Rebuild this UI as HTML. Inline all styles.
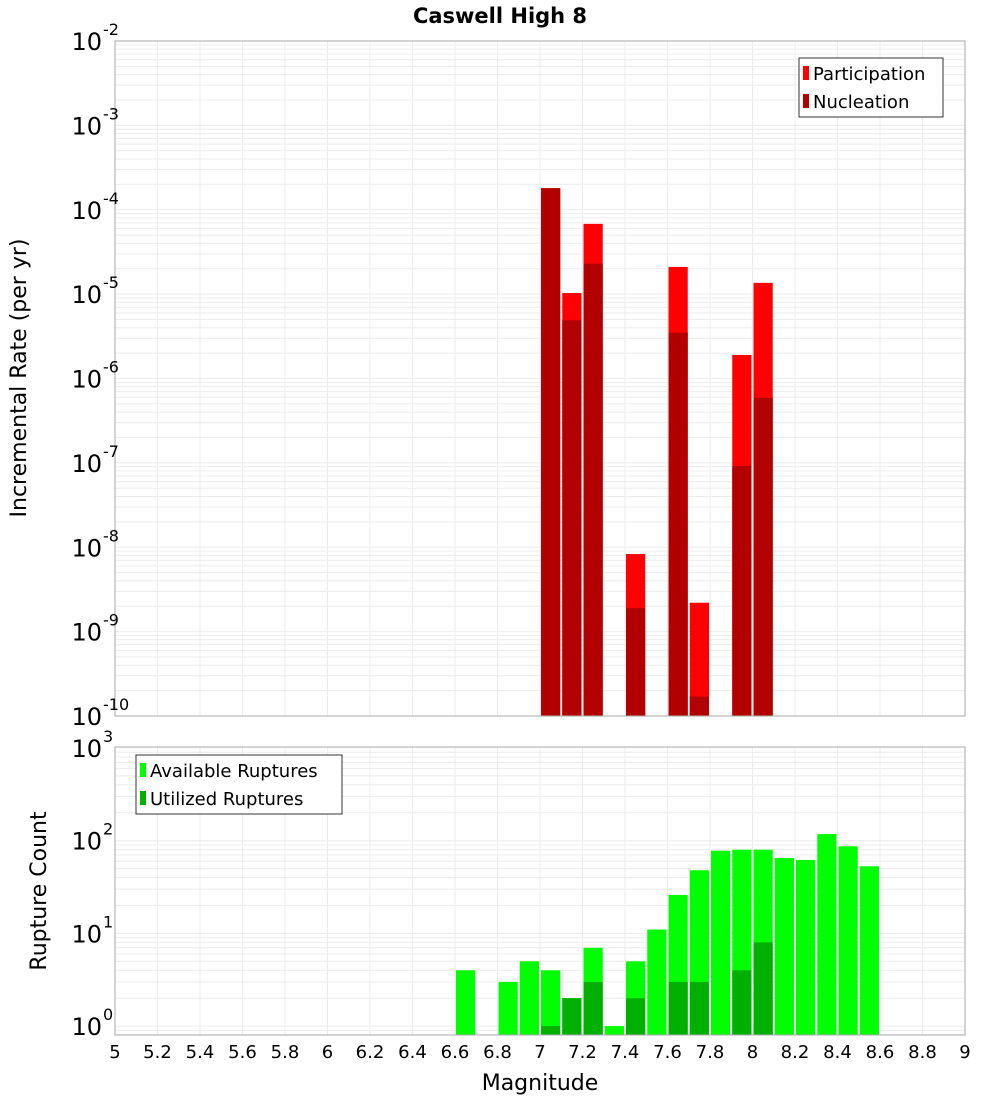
<!DOCTYPE html>
<html><head><meta charset="utf-8"><style>
body{margin:0;background:#fff;}
svg{display:block;font-family:"DejaVu Sans","Liberation Sans",sans-serif;}
</style></head><body>
<svg id="chart" width="1000" height="1100" xmlns="http://www.w3.org/2000/svg">
<rect width="1000" height="1100" fill="#fff"/>
<text x="500" y="23" text-anchor="middle" font-size="21" font-weight="bold">Caswell High 8</text>
<g id="topPlot"></g>
<g id="botPlot"></g>
<text transform="translate(26,378) rotate(-90)" text-anchor="middle" font-size="22">Incremental Rate (per yr)</text>
<text transform="translate(46,891) rotate(-90)" text-anchor="middle" font-size="22">Rupture Count</text>
<text x="540" y="1090" text-anchor="middle" font-size="22">Magnitude</text>
</svg>
<script>
const rateBins=[7.0,7.1,7.2,7.4,7.6,7.7,7.9,8.0];
const participation=[1.8e-4,1.03e-5,6.8e-5,8.3e-9,2.1e-5,2.2e-9,1.9e-6,1.36e-5];
const nucleation=[1.8e-4,4.9e-6,2.3e-5,1.9e-9,3.5e-6,1.7e-10,9.2e-8,5.9e-7];
const countBins=[6.6,6.8,6.9,7.0,7.1,7.2,7.3,7.4,7.5,7.6,7.7,7.8,7.9,8.0,8.1,8.2,8.3,8.4,8.5];
const available=[4,3,5,4,2,7,1,5,11,26,48,78,80,80,65,62,118,87,53];
const utilized=[0,0,0,1,2,3,0,2,0,3,3,0,4,8,0,0,0,0,0];
const xTicks=[5,5.2,5.4,5.6,5.8,6,6.2,6.4,6.6,6.8,7,7.2,7.4,7.6,7.8,8,8.2,8.4,8.6,8.8,9];
const rateExps=[-2,-3,-4,-5,-6,-7,-8,-9,-10];
const countExps=[3,2,1,0];

const NS="http://www.w3.org/2000/svg";
const X0=115,X1=965;
const xs=m=>X0+(m-5)/4*(X1-X0);
const yTop=v=>41+(-2-Math.log10(v))*84.375;
const yBot=v=>748+(3-Math.log10(v))*92.7;
function mk(tag,attrs,parent){const e=document.createElementNS(NS,tag);for(const k in attrs)e.setAttribute(k,attrs[k]);parent.appendChild(e);return e;}
const topG=document.getElementById('topPlot'),botG=document.getElementById('botPlot');

function frame(g,y0,y1,yf,lo,hi){
  for(let e=lo;e<hi;e++)for(let k=1;k<10;k++){const y=yf(k*Math.pow(10,e));if(y>=y0&&y<=y1){const l=mk('line',{x1:X0,x2:X1,y1:y,y2:y,stroke:'#ececec','stroke-width':1},g);
  
  }}
  xTicks.forEach(t=>{const l=mk('line',{x1:xs(t),x2:xs(t),y1:y0,y2:y1,stroke:'#ececec','stroke-width':1},g);
  
  });
}
function border(g,y0,y1){const r=mk('rect',{x:X0,y:y0,width:X1-X0,height:y1-y0,fill:'none',stroke:'#aaa','stroke-width':1},g);

}
function expLabel(g,y,e){const t=mk('text',{x:102,y:y+9,'text-anchor':'end','font-size':24},g);t.textContent='10';


const s=mk('text',{x:103,y:y-6,'font-size':16},g);s.textContent=String(e);

}
function bar(g,m,v,yf,ybase,col,name){const x=xs(m)+1,w=xs(m+0.1)-xs(m)-2;const y=yf(v);const r=mk('rect',{x:x,y:y,width:w,height:ybase-y,fill:col},g);

}

frame(topG,41,716,yTop,-10,-2);
rateBins.forEach((m,i)=>bar(topG,m,participation[i],yTop,716,'#ff0000','participation-bar'));
rateBins.forEach((m,i)=>bar(topG,m,nucleation[i],yTop,716,'#b20000','nucleation-bar'));
border(topG,41,716);
rateExps.forEach(e=>expLabel(topG,yTop(Math.pow(10,e)),e));

frame(botG,747,1035,yBot,-1,3);
countBins.forEach((m,i)=>{if(available[i]>0)bar(botG,m,available[i],yBot,1035,'#00ff00','available-bar');});
countBins.forEach((m,i)=>{if(utilized[i]>0)bar(botG,m,utilized[i],yBot,1035,'#00b000','utilized-bar');});
border(botG,747,1035);
countExps.forEach(e=>expLabel(botG,yBot(Math.pow(10,e)),e));
xTicks.forEach(t=>{const s=mk('text',{x:xs(t),y:1058,'text-anchor':'middle','font-size':18},botG);s.textContent=String(t);

});

function legend(g,x,y,w,items){const r=mk('rect',{x:x,y:y,width:w,height:59,fill:'#fff',stroke:'#333','stroke-width':1},g);


items.forEach((it,i)=>{const yy=y+15+i*28;const s=mk('rect',{x:x+4,y:yy-7,width:6,height:14,fill:it[1]},g);


const t=mk('text',{x:x+14,y:yy+7,'font-size':18},g);t.textContent=it[0];

});}
legend(topG,799,58,144,[['Participation','#ff0000'],['Nucleation','#b20000']]);
legend(botG,136,755,206,[['Available Ruptures','#00ff00'],['Utilized Ruptures','#00b000']]);
</script>
</body></html>
